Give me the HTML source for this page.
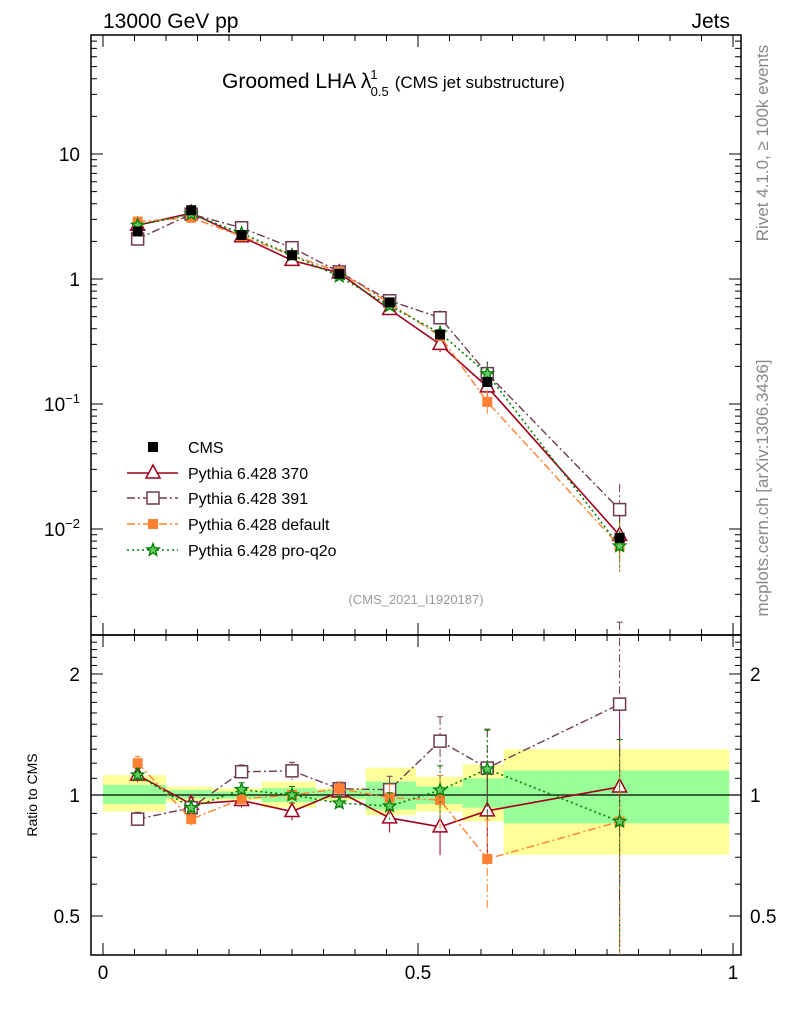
<!DOCTYPE html>
<html><head><meta charset="utf-8"><style>
body{margin:0;background:#fff}
svg{font-family:"Liberation Sans",sans-serif}
</style></head><body>
<svg id="c" width="786" height="1024" viewBox="0 0 786 1024"></svg>
<script>
const xs=[0.055,0.14,0.22,0.30,0.375,0.455,0.535,0.61,0.82];
const binEdges=[0,0.1,0.173,0.252,0.338,0.417,0.497,0.571,0.636,0.994];
const cms=[2.4,3.55,2.25,1.55,1.1,0.65,0.36,0.15,0.0085];
const p370=[2.69,3.37,2.18,1.41,1.12,0.57,0.30,0.137,0.0089];
const p391=[2.09,3.30,2.57,1.78,1.14,0.67,0.49,0.175,0.0143];
const pdef=[2.88,3.09,2.2,1.55,1.14,0.64,0.35,0.104,0.0073];
const pq2o=[2.69,3.30,2.32,1.55,1.05,0.61,0.37,0.174,0.0073];
const modelErr=[0.04,0.04,0.04,0.05,0.04,0.08,0.15,0.25,0.6];
const statLo=[0.95,0.98,0.98,0.96,0.98,0.92,0.95,0.93,0.85];
const statHi=[1.06,1.03,1.02,1.04,1.03,1.08,1.05,1.10,1.15];
const totLo=[0.91,0.96,0.97,0.93,0.97,0.89,0.91,0.86,0.71];
const totHi=[1.12,1.05,1.04,1.08,1.04,1.17,1.11,1.19,1.30];
const mainTicks=[10,1,0.1,0.01];
const ratioTicks=[2,1,0.5];
const xTicks=[0,0.5,1];

const NS="http://www.w3.org/2000/svg";
const svg=document.getElementById('c');
function el(t,a,p){const e=document.createElementNS(NS,t);for(const k in a)e.setAttribute(k,a[k]);(p||svg).appendChild(e);return e;}
const X=v=>103+630*v;
const Y=v=>279-125*Math.log10(v);
const R=v=>795-402*Math.log10(v);
const L=91,Rt=741,T=35,M=635,B=955;

const bands=el('g',{});


for(let i=0;i<xs.length;i++){
  const x0=X(binEdges[i]),x1=X(binEdges[i+1]);
  const y=el('rect',{x:x0,y:R(totHi[i]),width:x1-x0,height:R(totLo[i])-R(totHi[i]),fill:'#ffff99'},bands);
  
  
  const g=el('rect',{x:x0,y:R(statHi[i]),width:x1-x0,height:R(statLo[i])-R(statHi[i]),fill:'#99ff99'},bands);
  
  
}
el('line',{x1:L,x2:Rt,y1:R(1),y2:R(1),stroke:'#000','stroke-width':1.2});

for(const [y0,y1] of [[T,M],[M,B]]){
  const f=el('rect',{x:L,y:y0,width:Rt-L,height:y1-y0,fill:'none',stroke:'#000','stroke-width':1.5});
  
  
}
for(let e=-3;e<=1;e++){for(let k=1;k<10;k++){const v=k*Math.pow(10,e);const y=Y(v);if(y<T||y>M)continue;const len=k==1?12:6;
el('line',{x1:L,x2:L+len,y1:y,y2:y,stroke:'#000'});el('line',{x1:Rt,x2:Rt-len,y1:y,y2:y,stroke:'#000'});}}
mainTicks.forEach(v=>{const e=Math.round(Math.log10(v));const t=el('text',{x:80,y:Y(v)+7,'text-anchor':'end','font-size':19});
 
 if(e>=0)t.textContent=String(v);else{t.textContent='10';const s=el('tspan',{dy:-8,'font-size':13},t);s.textContent='−'+(-e);}});
for(let v=0.4;v<=2.51;v+=0.1){const y=R(v);if(y<M||y>B)continue;const maj=Math.abs(v-1)<1e-6||Math.abs(v-2)<1e-6||Math.abs(v-0.5)<1e-6;const len=maj?12:6;
el('line',{x1:L,x2:L+len,y1:y,y2:y,stroke:'#000'});el('line',{x1:Rt,x2:Rt-len,y1:y,y2:y,stroke:'#000'});}
ratioTicks.forEach(v=>{const a=el('text',{x:80,y:R(v)+7,'text-anchor':'end','font-size':19});a.textContent=String(v);

const b=el('text',{x:750,y:R(v)+7,'font-size':19});b.textContent=String(v);
});
for(let i=0;i<=20;i++){const v=i*0.05,x=X(v),maj=i%10==0,len=maj?12:6;
el('line',{x1:x,x2:x,y1:B,y2:B-len,stroke:'#000'});
el('line',{x1:x,x2:x,y1:T,y2:T+len,stroke:'#000'});el('line',{x1:x,x2:x,y1:M,y2:M-len,stroke:'#000'});el('line',{x1:x,x2:x,y1:M,y2:M+len,stroke:'#000'});}
xTicks.forEach(v=>{const t=el('text',{x:X(v),y:979,'text-anchor':'middle','font-size':19});t.textContent=String(v);
});

const series=[
 {n:'pythia-370',d:p370,c:'#a0001c',dash:'',m:'tri',w:1.6,label:'Pythia 6.428 370'},
 {n:'pythia-391',d:p391,c:'#6e3a50',dash:'8,3,2,3',m:'osq',w:1.4,label:'Pythia 6.428 391'},
 {n:'pythia-default',d:pdef,c:'#ff8030',dash:'8,3,2,3',m:'fsq',w:1.4,label:'Pythia 6.428 default'},
 {n:'pythia-pro-q2o',d:pq2o,c:'#008000',dash:'2,3',m:'star',w:1.6,label:'Pythia 6.428 pro-q2o'}];
function marker(g,m,x,y,c){
 if(m=='tri')el('polygon',{points:`${x},${y-8} ${x-7},${y+5} ${x+7},${y+5}`,fill:'#fff',stroke:c,'stroke-width':1.5},g);
 else if(m=='osq')el('rect',{x:x-6,y:y-6,width:12,height:12,fill:'#fff',stroke:c,'stroke-width':1.5},g);
 else if(m=='fsq')el('rect',{x:x-5,y:y-5,width:10,height:10,fill:c},g);
 else if(m=='star'){let p=[];for(let k=0;k<10;k++){const r=k%2?2.8:6.5,a=-Math.PI/2+k*Math.PI/5;p.push((x+r*Math.cos(a)).toFixed(1)+','+(y+r*Math.sin(a)).toFixed(1));}
  el('polygon',{points:p.join(' '),fill:'#6c6',stroke:c,'stroke-width':1.3},g);}
 else if(m=='cms')el('rect',{x:x-5,y:y-5,width:10,height:10,fill:'#000'},g);
}
series.forEach(s=>{
 const g=el('g',{});
 el('polyline',{points:s.d.map((v,i)=>X(xs[i])+','+Y(v)).join(' '),fill:'none',stroke:s.c,'stroke-width':s.w,'stroke-dasharray':s.dash},g);
 s.d.forEach((v,i)=>{const x=X(xs[i]);el('line',{x1:x,x2:x,y1:Y(v*(1+modelErr[i])),y2:Y(v/(1+modelErr[i])),stroke:s.c,'stroke-dasharray':s.dash},g);marker(g,s.m,x,Y(v),s.c);});
 const gr=el('g',{});
 const r=s.d.map((v,i)=>v/cms[i]);
 el('polyline',{points:r.map((v,i)=>X(xs[i])+','+R(v)).join(' '),fill:'none',stroke:s.c,'stroke-width':s.w,'stroke-dasharray':s.dash},gr);
 r.forEach((v,i)=>{const x=X(xs[i]);const e=modelErr[i]*v;el('line',{x1:x,x2:x,y1:R(v+e),y2:R(Math.max(v-e,0.4)),stroke:s.c,'stroke-dasharray':s.dash},gr);
  el('line',{x1:x-3,x2:x+3,y1:R(v+e),y2:R(v+e),stroke:s.c},gr);marker(gr,s.m,x,R(v),s.c);});
});
const gc=el('g',{});
cms.forEach((v,i)=>marker(gc,'cms',X(xs[i]),Y(v),'#000'));

const lg=el('g',{});
const ly=[447,473,498,524,550];
marker(lg,'cms',153,ly[0],'#000');
const t0=el('text',{x:188,y:ly[0]+6,'font-size':16},lg);t0.textContent='CMS';
series.forEach((s,i)=>{const y=ly[i+1];el('line',{x1:127,x2:178,y1:y,y2:y,stroke:s.c,'stroke-width':s.w,'stroke-dasharray':s.dash},lg);marker(lg,s.m,153,y,s.c);
 const t=el('text',{x:188,y:y+6,'font-size':16},lg);t.textContent=s.label;});

function txt(s,a,name){const t=el('text',a);t.textContent=s;return t;}
txt('13000 GeV pp',{x:103,y:28,'font-size':21},'header-process');
txt('Jets',{x:730,y:28,'font-size':21,'text-anchor':'end'},'header-type');
const ti=txt('Groomed LHA λ',{x:222,y:88,'font-size':21},'plot-title');
const a1=el('tspan',{dy:-9,'font-size':13,dx:-1},ti);a1.textContent='1';
const a2=el('tspan',{dy:17,dx:-7,'font-size':13},ti);a2.textContent='0.5';
const a3=el('tspan',{dy:-8,dx:6,'font-size':17},ti);a3.textContent='(CMS jet substructure)';
txt('(CMS_2021_I1920187)',{x:416,y:604,'font-size':13,fill:'#999','text-anchor':'middle'},'analysis-id');
txt('Ratio to CMS',{x:0,y:0,'font-size':14,transform:'translate(37,795) rotate(-90)','text-anchor':'middle'},'ratio-y-title');
txt('Rivet 4.1.0, ≥ 100k events',{x:0,y:0,'font-size':17,fill:'#888',transform:'translate(768,143) rotate(-90)','text-anchor':'middle'},'rivet-version');
txt('mcplots.cern.ch [arXiv:1306.3436]',{x:0,y:0,'font-size':17,fill:'#888',transform:'translate(768,488) rotate(-90)','text-anchor':'middle'},'mcplots-credit');
</script>
</body></html>
